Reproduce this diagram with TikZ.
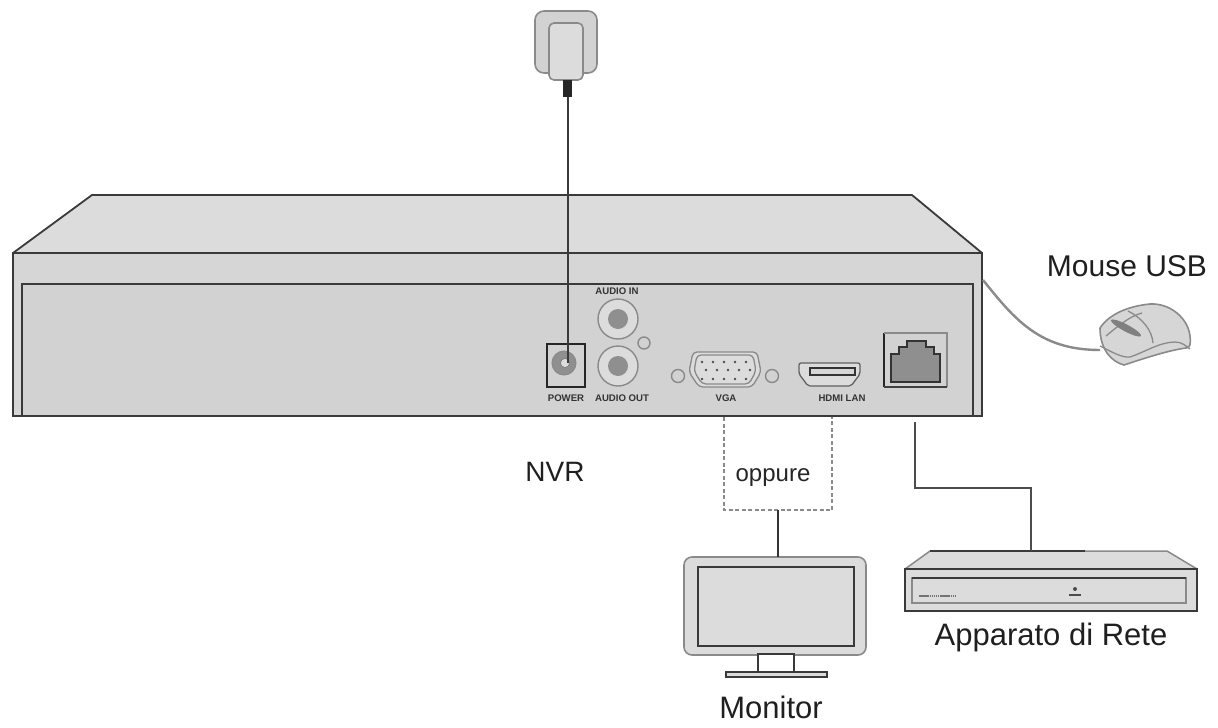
\documentclass[tikz,border=0pt]{standalone}
\usepackage{fontspec}
\setmainfont{Liberation Sans}
\usetikzlibrary{calc}
\definecolor{lineK}{HTML}{3A3A3A}
\definecolor{faceA}{HTML}{DCDCDC}
\definecolor{faceB}{HTML}{D6D6D6}
\definecolor{faceC}{HTML}{D2D2D2}
\definecolor{portK}{HTML}{8F8F8F}
\definecolor{softK}{HTML}{8A8A8A}
\tikzset{
 boxA/.style={draw=lineK,line width=1.8pt,fill=faceB,inner sep=0,outer sep=0},
 portline/.style={draw=softK,line width=1.3pt},
 caption/.style={font=\fontsize{30}{32}\selectfont,text=black!88,inner sep=0},
 captionB/.style={font=\fontsize{31}{33}\selectfont,text=black!88,inner sep=0},
 tinylbl/.style={font=\fontsize{9.6}{11}\selectfont\bfseries,text=black!80,inner sep=0},
 wire/.style={draw=lineK,line width=1.4pt},
 dashwire/.style={draw=softK,line width=1.3pt,dash pattern=on 4pt off 2.5pt},
 ring/.style={circle,draw=softK,line width=1.4pt,fill=faceA,inner sep=0,outer sep=0},
}
\begin{document}
\begin{tikzpicture}[x=1pt,y=-1pt]
\useasboundingbox (0,0) rectangle (1218,728);
\fill[white] (0,0) rectangle (1218,728);
% ---- NVR
\draw[draw=lineK,line width=1.8pt,fill=faceA,line join=round] (13,253)--(92,195)--(912,195)--(982,253)--cycle;
\node[boxA,minimum width=969pt,minimum height=163pt,anchor=north west] (nvr) at (13,253) {};
\node[boxA,fill=faceC,minimum width=951pt,minimum height=132pt,anchor=north west,line width=1.5pt] (panel) at (22,284) {};
\draw[lineK,line width=2pt] (13,416)--(982,416);
% power
\node[draw=black!85,line width=1.5pt,fill=faceC,minimum width=38pt,minimum height=43pt,inner sep=0,outer sep=0] (powerbox) at (566,365.5) {};
\node[circle,fill=portK,draw=softK,line width=1pt,minimum size=24pt,inner sep=0] (jack) at (564,363) {};
\node[circle,fill=faceA,draw=black!60,minimum size=9pt,inner sep=0] (jackpin) at (565,363) {};
% audio
\node[ring,minimum size=40pt] (ain) at (618,319) {};
\node[circle,fill=portK,minimum size=20pt,inner sep=0] at (ain) {};
\node[ring,minimum size=40pt] (aout) at (618,366) {};
\node[circle,fill=portK,minimum size=20pt,inner sep=0] at (aout) {};
\node[ring,fill=faceC,minimum size=12pt] (led) at (644,343) {};
% vga
\draw[portline,fill=faceA,rounded corners=4pt] (693,352)--(757,352)--(761,372)--(752,387)--(699,387)--(689,372)--cycle;
\draw[portline,fill=none,rounded corners=4pt] (697,355)--(753,355)--(756,371)--(749,384)--(702,384)--(694,371)--cycle;
\foreach \i in {0,...,4} {\fill[black!70] (702+\i*11,362) circle (1.4pt); \fill[black!70] (702+\i*11,379) circle (1.4pt); \fill[black!70] (706+\i*11,370) circle (1.4pt);}
\node[ring,fill=faceC,minimum size=13pt] (vgaL) at (678,376) {};
\node[ring,fill=faceC,minimum size=13pt] (vgaR) at (772,376) {};
% hdmi
\draw[portline,draw=lineK!80,fill=faceA,rounded corners=2pt] (799,363)--(860,363)--(860,374)--(851,386)--(808,386)--(799,374)--cycle;
\fill[black!80] (809,367) rectangle (856,376);
\fill[faceB] (811,369) rectangle (854,374);
% rj45
\draw[draw=black!85,line width=1.5pt] (884,387)--(884,333);
\draw[draw=softK,line width=1.3pt] (884,333)--(947,333)--(947,387);
\draw[draw=black!75,line width=1.5pt] (884,387)--(947,387);
\draw[draw=black!80,line width=1.4pt,fill=portK] (891,382)--(891,354)--(899,354)--(899,347)--(907,347)--(907,341)--(926,341)--(926,347)--(934,347)--(934,354)--(940,354)--(940,382)--cycle;
% port labels
\node[tinylbl] (lblAin) at (617,291) {AUDIO IN};
\node[tinylbl] (lblPow) at (566,398) {POWER};
\node[tinylbl] (lblAout) at (622,398) {AUDIO OUT};
\node[tinylbl] (lblVga) at (726,398) {VGA};
\node[tinylbl] (lblHdmi) at (842,398) {HDMI LAN};
% ---- plug
\draw[draw=softK,line width=1.6pt,fill=faceC,rounded corners=9pt] (535,11) rectangle (597,73);
\node[draw=softK,line width=1.6pt,fill=faceA,minimum width=34pt,minimum height=57pt,rounded corners=5pt,inner sep=0,outer sep=0] (plug) at (566,51.5) {};
\fill[black!85] (563,80) rectangle (572,97);
\coordinate (cordtop) at (568,97);
\draw[wire] (cordtop)--(cordtop |- jackpin);
% ---- mouse
\coordinate (usbout) at (983,280);
\coordinate (usbin) at (1100,350);
\draw[draw=softK,line width=2.4pt] (usbout) .. controls (1015,320) and (1040,350) .. (usbin);
\draw[draw=softK,line width=1.6pt,fill=faceB,line join=round]
 (1100,328) .. controls (1110,313) and (1130,306) .. (1150,304)
 .. controls (1170,303) and (1188,318) .. (1190,336)
 .. controls (1191,344) and (1190,348) .. (1186,348)
 .. controls (1170,350) and (1145,358) .. (1124,365)
 .. controls (1112,362) and (1100,350) .. (1100,328) -- cycle;
\draw[softK,line width=1.3pt] (1100,346) .. controls (1112,352) and (1122,358) .. (1130,357)
 .. controls (1145,352) and (1160,342) .. (1175,342) .. controls (1182,342) and (1186,346) .. (1190,349);
\draw[softK,line width=1.3pt] (1128,311) .. controls (1142,318) and (1152,330) .. (1153,343);
\draw[softK,line width=1.3pt] (1106,336) .. controls (1118,326) and (1130,316) .. (1142,313);
\fill[black!50,rotate around={-28:(1126,328)}] (1126,328) ellipse (17pt and 3.5pt);
\node[caption,anchor=center] (lblMouse) at (1127,266) {Mouse USB};
\node[caption,font=\fontsize{28}{30}\selectfont] (lblNvr) at (555,472) {NVR};
% ---- monitor
\node[draw=softK,line width=1.6pt,fill=faceA,minimum width=182pt,minimum height=98pt,rounded corners=8pt,inner sep=0,outer sep=0] (monitor) at (775,606) {};
\node[draw=lineK,line width=1.8pt,fill=faceA,minimum width=156pt,minimum height=79pt,inner sep=0,outer sep=0] (screen) at (776,606.5) {};
\draw[draw=lineK,line width=1.5pt,fill=white] (758,672)--(758,654)--(794,654)--(794,672);
\node[draw=lineK,line width=1.4pt,fill=faceA,minimum width=101pt,minimum height=5pt,inner sep=0,outer sep=0] (base) at (776.5,674.5) {};
\node[captionB] (lblMon) at (771,707) {Monitor};
% ---- switch
\draw[draw=softK,line width=1.5pt,fill=faceA,line join=round] (905,569)--(930,551)--(1167,551)--(1197,569)--cycle;
\draw[lineK,line width=1.4pt] (930,551)--(1085,551);
\node[boxA,fill=faceA,minimum width=292pt,minimum height=42pt,anchor=north west,line width=1.6pt] (switch) at (905,569) {};
\node[draw=softK,line width=2pt,fill=faceA,minimum width=274pt,minimum height=25pt,inner sep=0,outer sep=0] (swpanel) at (1049,590.5) {};
\draw[lineK,line width=1.4pt] (swpanel.north west)--(swpanel.north east);
\draw[black!55,line width=2pt,dash pattern=on 1.5pt off .6pt] (919,595.5)--(955,595.5);
\fill[black!70] (1075,589) circle (2pt);
\draw[black!70,line width=1.2pt] (1069,595)--(1081,595);
\node[captionB] (lblNet) at (1051,637) {Apparato di Rete};
% ---- connectors
\coordinate (lanout) at (915,422);
\coordinate (vgaout) at (724,417);
\coordinate (hdmiout) at (832,417);
\coordinate (join) at (778,510);
\draw[wire,draw=black!70,line width=1.3pt] (lanout)|-(1031,488)--(1031,551);
\draw[dashwire] (vgaout)|-(join)-|(hdmiout);
\draw[wire,draw=black!80] (join)--(monitor.north -| join);
\node[font=\fontsize{24}{26}\selectfont,text=black!85,inner sep=0] (lblOr) at (773,478) {oppure};
\end{tikzpicture}
\end{document}
